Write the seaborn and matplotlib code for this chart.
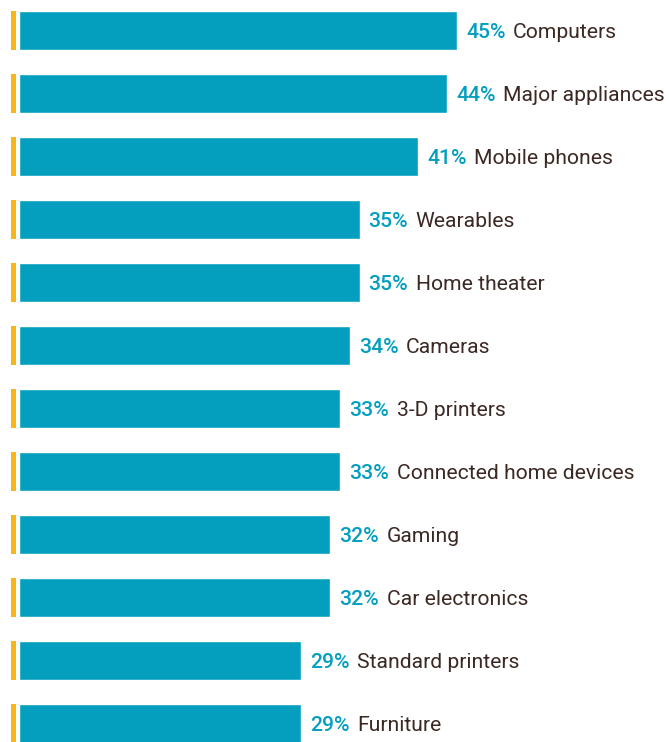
import pandas as pd
import matplotlib
matplotlib.use("Agg")
import matplotlib.pyplot as plt
import seaborn as sns

# Values
categories = ["Computers", "Major appliances", "Mobile phones", "Wearables",
              "Home theater", "Cameras", "3-D printers", "Connected home devices",
              "Gaming", "Car electronics", "Standard printers", "Furniture"]
shares = [45, 44, 41, 35, 35, 34, 33, 33, 32, 32, 29, 29]

df = pd.DataFrame({"category": categories, "share": shares})

teal = "#049ebf"
orange = "#f9b51c"
brown = "#3b2823"

sns.set_style("white")
plt.rcParams["font.family"] = ["Roboto", "DejaVu Sans"]

fig = plt.figure(figsize=(6.69, 7.42), dpi=100)
ax = fig.add_axes([0, 0, 1, 1])

sns.barplot(data=df, y="category", x="share", orient="h", color=teal,
            width=0.62, saturation=1, ax=ax)

# small orange marker left of each bar
ax.barh(range(len(categories)), width=0.5, left=-0.82, height=0.62,
        color=orange, edgecolor="none")

for i, (cat, val) in enumerate(zip(categories, shares)):
    pct = ax.annotate(f"{val}%", xy=(val, i), xytext=(6.5, -1.5), textcoords="offset points",
                      va="center", ha="left", fontsize=15.2, color=teal, fontweight="medium")
    ax.annotate(cat, xy=(1, 0.5), xycoords=pct, xytext=(5.5, 0), textcoords="offset points",
                va="center", ha="left", fontsize=15.2, color=brown)

ax.set_xlim(-1.95, 66.8)
ax.set_ylim(11.29, -0.484)
ax.set_axis_off()

fig.savefig("out.png", dpi=100, facecolor="white")
